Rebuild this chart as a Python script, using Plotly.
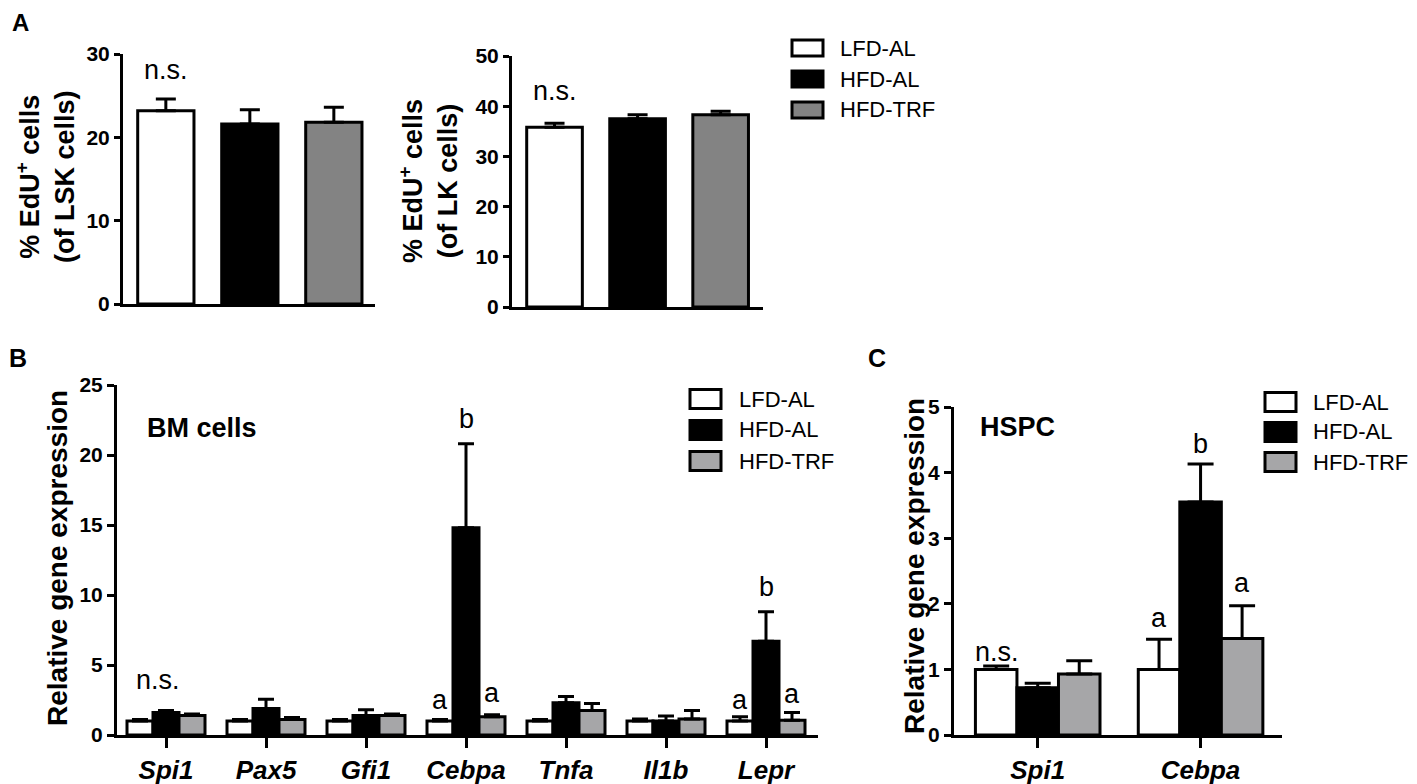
import plotly.graph_objects as go

W, H = 1417, 784      # target picture size
OFF = 8               # page body margin of the browser
FW, FH = W - OFF, H - OFF

# ---------------- data ----------------
groups = ["LFD-AL", "HFD-AL", "HFD-TRF"]
fills_A = ["#ffffff", "#000000", "#838383"]
fills_BC = ["#ffffff", "#000000", "#a6a6a8"]

# Panel A
lsk_mean = [23.2, 21.6, 21.8]
lsk_err = [1.4, 1.7, 1.8]
lk_mean = [35.8, 37.5, 38.3]
lk_err = [0.8, 0.8, 0.7]

# Panel B (BM cells)
genes_B = ["Spi1", "Pax5", "Gfi1", "Cebpa", "Tnfa", "Il1b", "Lepr"]
B_mean = {
    "LFD-AL": [1.0, 1.0, 1.0, 1.0, 1.0, 1.0, 1.0],
    "HFD-AL": [1.6, 1.9, 1.4, 14.8, 2.3, 1.0, 6.7],
    "HFD-TRF": [1.4, 1.1, 1.4, 1.3, 1.75, 1.15, 1.05],
}
B_err = {
    "LFD-AL": [0.1, 0.1, 0.1, 0.1, 0.1, 0.15, 0.3],
    "HFD-AL": [0.15, 0.65, 0.4, 6.0, 0.45, 0.35, 2.1],
    "HFD-TRF": [0.1, 0.15, 0.1, 0.15, 0.5, 0.6, 0.55],
}

# Panel C (HSPC)
genes_C = ["Spi1", "Cebpa"]
C_mean = {
    "LFD-AL": [1.0, 1.0],
    "HFD-AL": [0.72, 3.55],
    "HFD-TRF": [0.93, 1.47],
}
C_err = {
    "LFD-AL": [0.05, 0.46],
    "HFD-AL": [0.07, 0.58],
    "HFD-TRF": [0.2, 0.5],
}

# significance labels: (text, category index, group index, y)
sig_A1 = [("n.s.", 0, None, 28.1)]
sig_A2 = [("n.s.", 0, None, 43.0)]
sig_B = [("n.s.", 0, None, 3.9), ("a", 3, 0, 2.5), ("b", 3, 1, 22.6), ("a", 3, 2, 3.0),
         ("a", 6, 0, 2.5), ("b", 6, 1, 10.6), ("a", 6, 2, 2.9)]
sig_C = [("n.s.", 0, None, 1.27), ("a", 1, 0, 1.78), ("b", 1, 1, 4.44), ("a", 1, 2, 2.31)]

# ---------------- helpers (pixel positions in the target picture) ----------------
def px(x):
    return (x - OFF) / FW

def py(y):
    return 1 - (y - OFF) / FH

def xd(a, b):
    return [px(a), px(b)]

def yd(top, bottom):
    return [py(bottom), py(top)]

FONT = "Liberation Sans, Arial, sans-serif"
fig = go.Figure()

# Panel A bars (one trace per group, one bar each)
for ax, means, errs in [("", lsk_mean, lsk_err), ("2", lk_mean, lk_err)]:
    for k, g in enumerate(groups):
        fig.add_trace(go.Bar(
            x=[g], y=[means[k]], xaxis="x" + ax, yaxis="y" + ax,
            width=0.67, marker=dict(color=fills_A[k], line=dict(color="black", width=3)),
            error_y=dict(type="data", array=[errs[k]], arrayminus=[0], symmetric=False,
                         thickness=3, width=10, color="black"),
            showlegend=False, name=g))

# Panel B and C bars
BW_B, BW_C = 0.26, 0.255
for ax, genes, means, errs, bw in [("3", genes_B, B_mean, B_err, BW_B),
                                   ("4", genes_C, C_mean, C_err, BW_C)]:
    for k, g in enumerate(groups):
        fig.add_trace(go.Bar(
            x=genes, y=means[g], xaxis="x" + ax, yaxis="y" + ax,
            width=bw, offset=-1.5 * bw + k * bw,
            marker=dict(color=fills_BC[k], line=dict(color="black", width=3)),
            error_y=dict(type="data", array=errs[g], arrayminus=[0] * len(genes), symmetric=False,
                         thickness=3, width=8 if ax == "3" else 13, color="black"),
            showlegend=False, name=g))

axis_common = dict(showline=True, linecolor="black", linewidth=3, showgrid=False,
                   zeroline=False, ticks="outside", tickwidth=3, tickcolor="black",
                   automargin=False)
xa_hidden = dict(showticklabels=False, showline=True, linecolor="black", linewidth=3,
                 ticks="", showgrid=False, zeroline=False, automargin=False, type="category",
                 categoryorder="array", categoryarray=groups)

fig.update_layout(
    width=FW, height=FH, margin=dict(l=0, r=0, t=0, b=0, autoexpand=False),
    paper_bgcolor="white", plot_bgcolor="white", barmode="overlay",
    font=dict(family=FONT, color="black"),
    # A left
    xaxis=dict(domain=xd(123, 375), range=[-0.51, 2.49], anchor="y", **xa_hidden),
    yaxis=dict(domain=yd(54, 304), range=[0, 30], tickvals=[0, 10, 20, 30], ticklen=6,
               tickfont=dict(size=21, family=FONT, weight="bold"), anchor="x", **axis_common),
    # A right
    xaxis2=dict(domain=xd(512, 763), range=[-0.512, 2.51], anchor="y2", **xa_hidden),
    yaxis2=dict(domain=yd(56, 307), range=[0, 50], tickvals=[0, 10, 20, 30, 40, 50], ticklen=6,
                tickfont=dict(size=21, family=FONT, weight="bold"), anchor="x2", **axis_common),
    # B
    xaxis3=dict(domain=xd(117, 818), range=[-0.49, 6.52], type="category",
                categoryorder="array", categoryarray=genes_B, ticklen=10,
                tickfont=dict(size=26, family=FONT, weight="bold", style="italic"),
                anchor="y3", **axis_common),
    yaxis3=dict(domain=yd(385, 735), range=[0, 25], tickvals=[0, 5, 10, 15, 20, 25], ticklen=7,
                tickfont=dict(size=21, family=FONT, weight="bold"), anchor="x3", **axis_common),
    # C
    xaxis4=dict(domain=xd(954, 1282), range=[-0.514, 1.50], type="category",
                categoryorder="array", categoryarray=genes_C, ticklen=10,
                tickfont=dict(size=26, family=FONT, weight="bold", style="italic"),
                anchor="y4", **axis_common),
    yaxis4=dict(domain=yd(407, 735), range=[0, 5], tickvals=[0, 1, 2, 3, 4, 5], ticklen=7,
                tickfont=dict(size=21, family=FONT, weight="bold"), anchor="x4", **axis_common),
)

ann = []
# significance labels
for sigs, ax, bw in [(sig_A1, "", 0), (sig_A2, "2", 0), (sig_B, "3", BW_B), (sig_C, "4", BW_C)]:
    for text, ci, gi, yv in sigs:
        if gi is None:
            xv = ci - (0.08 if ax == "3" else (0.25 if ax == "4" else 0))
        else:
            xv = ci + (gi - 1) * bw
        ann.append(dict(text=text, x=xv, y=yv, xref="x" + ax, yref="y" + ax,
                        showarrow=False, font=dict(size=27, family=FONT), xanchor="center",
                        yanchor="middle"))

def pann(text, x, y, size, angle=0, xanchor="center"):
    return dict(text=text, x=px(x), y=py(y), xref="paper", yref="paper", textangle=angle,
                xanchor=xanchor, yanchor="middle", showarrow=False,
                font=dict(size=size, family=FONT))

# axis titles (rotated) and panel labels
ann += [
    pann("<b>% EdU<sup>+</sup> cells<br>(of LSK cells)</b>", 45, 177, 27, -90),
    pann("<b>% EdU<sup>+</sup> cells<br>(of LK cells)</b>", 428, 181, 27, -90),
    pann("<b>Relative gene expression</b>", 57, 558, 28, -90),
    pann("<b>Relative gene expression</b>", 914, 566, 28, -90),
    pann("<b>BM cells</b>", 145, 428, 27, 0, "left"),
    pann("<b>HSPC</b>", 978, 427, 27, 0, "left"),
    pann("<b>A</b>", 20, 22, 24),
    pann("<b>B</b>", 18, 358, 25),
    pann("<b>C</b>", 877, 358, 25),
]

# legends (box + label), drawn for each panel
shapes = []
legend_specs = [
    (792, 838, [48, 79, 110], fills_A, 16),
    (690, 737, [399, 430, 461], fills_BC, 19),
    (1265, 1311, [402, 432, 462], fills_BC, 19),
]
for bx, tx, rows, fills, bh in legend_specs:
    for k, g in enumerate(groups):
        cy = rows[k]
        shapes.append(dict(type="rect", xref="paper", yref="paper",
                           x0=px(bx), x1=px(bx + 31), y0=py(cy + bh / 2), y1=py(cy - bh / 2),
                           fillcolor=fills[k], line=dict(color="black", width=3)))
        ann.append(pann(g, tx, cy, 22, 0, "left"))

fig.update_layout(annotations=ann, shapes=shapes)
fig.write_html("out.html")
